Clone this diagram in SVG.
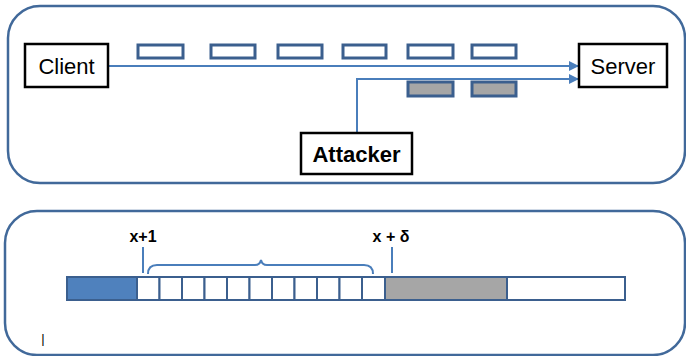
<svg xmlns="http://www.w3.org/2000/svg" width="686" height="356" viewBox="0 0 686 356">
<defs>
<style>
.panel{fill:#fff;stroke:#41699a;stroke-width:2.5}
.box{fill:#fff;stroke:#000;stroke-width:2.5}
.lbl{font-family:"Liberation Sans",Arial,sans-serif;font-size:22px;fill:#000}
.b{font-weight:bold}
.pk{fill:#fff;stroke:#3b5f8e;stroke-width:3}
.pkg{fill:#a6a6a6;stroke:#3b5f8e;stroke-width:3}
.conn{fill:none;stroke:#4a7ebb;stroke-width:2}
.cell{fill:#fff;stroke:#3b5f8e;stroke-width:2}
.small{font-family:"Liberation Sans",Arial,sans-serif;font-size:16px;font-weight:bold;fill:#000}
</style>
<marker id="ah" viewBox="0 0 10 10" refX="9" refY="5" markerWidth="5" markerHeight="5" orient="auto" markerUnits="strokeWidth">
<path d="M0,0 L10,5 L0,10 z" fill="#4a7ebb"/>
</marker>
</defs>
<g id="top-panel">
<rect class="panel" x="8" y="6" width="677" height="177" rx="32"/>
</g>
<g id="packets">
<rect class="pk" x="138" y="45" width="45" height="13"/>
<rect class="pk" x="211" y="45" width="44" height="13"/>
<rect class="pk" x="278" y="45" width="44" height="13"/>
<rect class="pk" x="343" y="45" width="43" height="13"/>
<rect class="pk" x="408" y="45" width="45" height="13"/>
<rect class="pk" x="472" y="45" width="44" height="13"/>
<rect class="pkg" x="408" y="82" width="45" height="14"/>
<rect class="pkg" x="472" y="82" width="44" height="14"/>
</g>
<g id="connectors">
<path class="conn" d="M108,66 H578" marker-end="url(#ah)"/>
<path class="conn" d="M357,133 V79 H578" marker-end="url(#ah)"/>
</g>
<g id="client">
<rect class="box" x="25" y="44" width="83" height="43"/>
<text class="lbl" x="66.5" y="74" text-anchor="middle">Client</text>
</g>
<g id="server">
<rect class="box" x="579" y="44" width="88" height="43"/>
<text class="lbl" x="623" y="74" text-anchor="middle">Server</text>
</g>
<g id="attacker">
<rect class="box" x="301" y="133" width="111" height="41"/>
<text class="lbl b" x="356.5" y="162" text-anchor="middle">Attacker</text>
</g>
<g id="bottom-panel">
<rect class="panel" x="5" y="211" width="680" height="144" rx="32"/>
</g>
<g id="buffer">
<rect x="67" y="277" width="70" height="23" fill="#4f81bd" stroke="#3b5f8e" stroke-width="2"/>
<rect class="cell" x="137" y="277" width="22.5" height="23"/>
<rect class="cell" x="159.5" y="277" width="22.5" height="23"/>
<rect class="cell" x="182" y="277" width="22.5" height="23"/>
<rect class="cell" x="204.5" y="277" width="22.5" height="23"/>
<rect class="cell" x="227" y="277" width="22.5" height="23"/>
<rect class="cell" x="249.5" y="277" width="22.5" height="23"/>
<rect class="cell" x="272" y="277" width="22.5" height="23"/>
<rect class="cell" x="294.5" y="277" width="22.5" height="23"/>
<rect class="cell" x="317" y="277" width="22.5" height="23"/>
<rect class="cell" x="339.5" y="277" width="22.5" height="23"/>
<rect class="cell" x="362" y="277" width="23" height="23"/>
<rect x="385" y="277" width="122" height="23" fill="#a6a6a6" stroke="#3b5f8e" stroke-width="2"/>
<rect class="cell" x="507" y="277" width="118" height="23"/>
</g>
<g id="markers">
<path class="conn" d="M143,247 V273"/>
<path class="conn" d="M392,247 V273"/>
<path class="conn" d="M148,274 Q148,265 157,265 H255 Q260,265 261,260 Q262,265 267,265 H364 Q373,265 373,274" stroke-width="1.5"/>
<text class="small" x="143" y="242" text-anchor="middle">x+1</text>
<text class="small" x="391" y="242" text-anchor="middle">x + δ</text>
<text x="43" y="343" fill="#000" font-family="Liberation Sans,Arial,sans-serif" font-size="13" text-anchor="middle">|</text>
</g>
</svg>
